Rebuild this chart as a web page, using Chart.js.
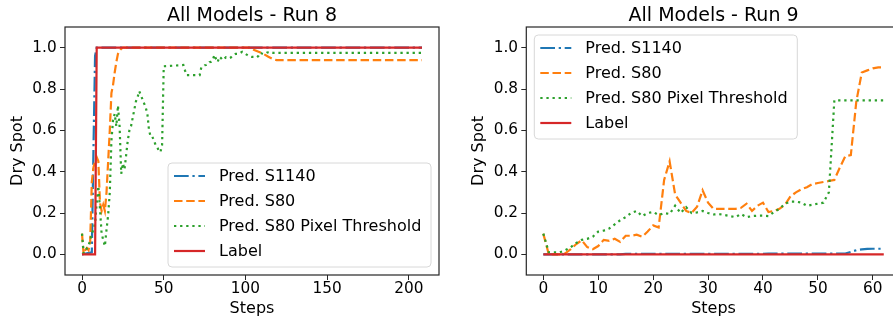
<!DOCTYPE html>
<html>
<head>
<meta charset="utf-8">
<script src="https://cdn.jsdelivr.net/npm/chart.js@4.4.0/dist/chart.umd.min.js"></script>
<style>
  html, body { margin: 0; padding: 0; background: #fff; overflow: hidden; }
  #wrap { position: relative; width: 893px; height: 322px; overflow: hidden; }
  .box { position: absolute; top: 0; height: 322px; }
  #box8 { left: 0; width: 446px; }
  #box9 { left: 446px; width: 460px; }
</style>
</head>
<body>
<div id="wrap">
  <div class="box" id="box8"><canvas id="run8" width="446" height="322"></canvas></div>
  <div class="box" id="box9"><canvas id="run9" width="460" height="322"></canvas></div>
</div>
<script>
var seriesNames = ["Pred. S1140", "Pred. S80", "Pred. S80 Pixel Threshold", "Label"];
var yTicks = [0, 0.2, 0.4, 0.6, 0.8, 1.0];
var run8Ticks = [0, 50, 100, 150, 200];
var run9Ticks = [0, 10, 20, 30, 40, 50, 60];

// run 8 : only the steps where a line bends are listed
var run8S1140Steps = [0, 6, 7, 8, 9, 208];
var run8S1140Values = [0, 0.01, 0.5, 0.96, 1, 1];

var run8S80Steps = [0, 1, 2, 3, 4, 5, 6, 7, 8, 9, 10, 11, 12, 13, 14, 15, 16, 17, 18, 19, 20, 21, 22, 23, 24, 25,
  103, 105, 108, 111, 114, 117, 119, 208];
var run8S80Values = [0.1, 0.0, 0.02, 0.03, 0.02, 0.06, 0.35, 0.42, 0.45, 0.47, 0.45, 0.25, 0.21, 0.24, 0.21, 0.3,
  0.45, 0.6, 0.78, 0.82, 0.88, 0.93, 0.97, 0.985, 0.995, 1.0,
  1.0, 0.99, 0.98, 0.97, 0.956, 0.944, 0.94, 0.94];

var run8PixelSteps = [0, 1, 2, 3, 4, 5, 6, 7, 8, 9, 10, 11, 12, 13, 14, 15, 16, 17, 18, 19, 20, 21, 22, 23, 24, 25,
  26, 27, 28, 29, 30, 31, 32, 33, 34, 35, 36, 37, 38, 39, 40, 41, 42, 43, 44, 45, 46, 47, 48, 49, 50,
  62, 63, 64, 72,
  73, 74, 75, 76, 77, 78, 79, 80, 81, 82, 83, 84, 85, 86, 87, 88, 89, 90, 91, 92, 93, 94, 95, 96, 97, 98, 99,
  100, 101, 102, 103, 104, 105, 106, 107, 108, 109, 110, 111, 112, 113, 114, 115, 116, 117, 208];
var run8PixelValues = [0.1, 0.005, 0.01, 0.03, 0.04, 0.07, 0.1, 0.12, 0.15, 0.25,
  0.33, 0.22, 0.1, 0.07, 0.04, 0.12, 0.19, 0.3, 0.55, 0.65,
  0.68, 0.62, 0.72, 0.62, 0.39, 0.44, 0.41, 0.48, 0.55, 0.6,
  0.62, 0.66, 0.7, 0.74, 0.76, 0.79, 0.77, 0.75, 0.73, 0.71,
  0.68, 0.6, 0.57, 0.57, 0.55, 0.53, 0.52, 0.5, 0.495, 0.53, 0.91,
  0.916, 0.89, 0.867, 0.867,
  0.905, 0.91, 0.915, 0.916, 0.92, 0.93, 0.932, 0.94, 0.965, 0.945, 0.93, 0.956, 0.95, 0.94, 0.945, 0.953, 0.95,
  0.948, 0.952, 0.96, 0.965, 0.97, 0.97, 0.973, 0.975, 0.98, 0.975,
  0.97, 0.965, 0.96, 0.957, 0.955, 0.955, 0.953, 0.953, 0.96, 0.975, 0.972, 0.97, 0.97, 0.975, 0.978, 0.98,
  0.977, 0.975, 0.975];

var run8LabelSteps = [0, 8, 9, 208];
var run8LabelValues = [0, 0, 1, 1];

// run 9 : every step
var run9Steps = [0, 1, 2, 3, 4, 5, 6, 7, 8, 9, 10, 11, 12, 13, 14, 15, 16, 17, 18, 19, 20, 21, 22, 23, 24, 25,
  26, 27, 28, 29, 30, 31, 32, 33, 34, 35, 36, 37, 38, 39, 40, 41, 42, 43, 44, 45, 46, 47, 48, 49, 50, 51, 52,
  53, 54, 55, 56, 57, 58, 59, 60, 61, 62];
var run9S1140Values = [0, 0, 0, 0, 0, 0, 0, 0, 0, 0, 0, 0, 0, 0, 0,
  0.002, 0.002, 0.002, 0.002, 0.002, 0.002, 0.002, 0.002, 0.002, 0.002, 0.002, 0.002, 0.002,
  0.002, 0.002, 0.002, 0.002, 0.002, 0.002, 0.002, 0.002, 0.002, 0.002, 0.002, 0.002, 0.002,
  0.004, 0.004, 0.004, 0.004, 0.004, 0.004, 0.004, 0.004, 0.004, 0.004, 0.004, 0.004, 0.004, 0.004, 0.004,
  0.012, 0.02, 0.024, 0.026, 0.027, 0.027, 0.027];
var run9S80Values = [0.1, 0.0, 0.0, 0.0, 0.005, 0.025, 0.05, 0.068, 0.035, 0.025,
  0.04, 0.07, 0.065, 0.075, 0.06, 0.09, 0.09, 0.095, 0.085, 0.11,
  0.14, 0.13, 0.36, 0.45, 0.29, 0.25, 0.21, 0.2, 0.23, 0.31,
  0.25, 0.22, 0.22, 0.22, 0.22, 0.22, 0.225, 0.245, 0.21, 0.235,
  0.25, 0.205, 0.21, 0.22, 0.24, 0.28, 0.3, 0.315, 0.325, 0.34,
  0.345, 0.35, 0.355, 0.36, 0.42, 0.475, 0.48, 0.74, 0.88, 0.89,
  0.9, 0.905, 0.905];
var run9PixelValues = [0.1, 0.01, 0.01, 0.01, 0.02, 0.035, 0.055, 0.07, 0.075, 0.085,
  0.11, 0.115, 0.125, 0.145, 0.165, 0.18, 0.2, 0.21, 0.185, 0.2,
  0.205, 0.19, 0.2, 0.195, 0.235, 0.2, 0.228, 0.2, 0.203, 0.21,
  0.2, 0.193, 0.195, 0.19, 0.185, 0.18, 0.195, 0.18, 0.185, 0.187,
  0.187, 0.185, 0.205, 0.22, 0.245, 0.255, 0.255, 0.25, 0.235, 0.24,
  0.245, 0.25, 0.3, 0.745, 0.745, 0.745, 0.745, 0.745, 0.745, 0.745,
  0.745, 0.745, 0.745];
var run9LabelSteps = [0, 62];
var run9LabelValues = [0, 0];

var colors = ["#1f77b4", "#ff7f0e", "#2ca02c", "#d62728"];
var dashes = [[14.7, 3.7, 2.3, 3.7], [8.5, 3.7], [2.3, 3.8], []];
var FONT = '"DejaVu Sans", sans-serif';

function zip(steps, values) {
  return steps.map(function (s, i) { return { x: s, y: values[i] }; });
}

function makeDatasets(lists) {
  return lists.map(function (pts, i) {
    return {
      label: seriesNames[i],
      data: pts,
      borderColor: colors[i],
      backgroundColor: colors[i],
      borderWidth: 2.2,
      borderDash: dashes[i],
      pointRadius: 0,
      tension: 0,
      fill: false,
      order: 3 - i
    };
  });
}

// frame, title and legend drawn like matplotlib
var boxPlugin = {
  id: "boxPlugin",
  afterDraw: function (chart) {
    var o = chart.options.plugins.boxPlugin;
    var a = chart.chartArea;
    var ctx = chart.ctx;
    ctx.save();
    ctx.strokeStyle = "#262626";
    ctx.lineWidth = 1.2;
    ctx.strokeRect(a.left, a.top, a.right - a.left, a.bottom - a.top);

    ctx.fillStyle = "#000";
    ctx.font = "19px " + FONT;
    ctx.textAlign = "center";
    ctx.textBaseline = "alphabetic";
    ctx.fillText(o.title, (a.left + a.right) / 2, 20.7);

    var w = 263, h = 104;
    var bx = o.corner === "lower right" ? a.right - 8 - w : a.left + 8;
    var by = o.corner === "lower right" ? a.bottom - 8 - h : a.top + 8;
    ctx.beginPath();
    ctx.roundRect(bx, by, w, h, 4);
    ctx.fillStyle = "rgba(255,255,255,0.8)";
    ctx.fill();
    ctx.strokeStyle = "#d8d8d8";
    ctx.lineWidth = 1;
    ctx.stroke();

    ctx.font = "16px " + FONT;
    ctx.textAlign = "left";
    ctx.textBaseline = "middle";
    chart.data.datasets.forEach(function (ds, i) {
      var yy = by + 13 + i * 25;
      ctx.beginPath();
      ctx.setLineDash(ds.borderDash);
      ctx.strokeStyle = ds.borderColor;
      ctx.lineWidth = ds.borderWidth;
      ctx.moveTo(bx + 6, yy);
      ctx.lineTo(bx + 37, yy);
      ctx.stroke();
      ctx.setLineDash([]);
      ctx.fillStyle = "#000";
      ctx.fillText(ds.label, bx + 51, yy + 1);
    });
    ctx.restore();
  }
};

function makeChart(id, datasets, xMin, xMax, xTicks, opts) {
  return new Chart(document.getElementById(id), {
    type: "line",
    data: { datasets: datasets },
    plugins: [boxPlugin],
    options: {
      responsive: false,
      animation: false,
      devicePixelRatio: 1,
      layout: { padding: { left: 0, right: opts.padRight, top: 27, bottom: 0 } },
      plugins: {
        legend: { display: false },
        tooltip: { enabled: false },
        title: { display: false },
        boxPlugin: { title: opts.title, corner: opts.corner }
      },
      scales: {
        x: {
          type: "linear",
          min: xMin,
          max: xMax,
          afterBuildTicks: function (scale) {
            scale.ticks = xTicks.map(function (v) { return { value: v }; });
          },
          afterFit: function (scale) { scale.height = 47; },
          ticks: {
            color: "#000",
            font: { family: FONT, size: 15.3 },
            padding: 0,
            maxRotation: 0,
            callback: function (v) { return String(v); }
          },
          grid: { drawOnChartArea: false, drawTicks: true, tickLength: 5, color: "#262626" },
          border: { display: false },
          title: {
            display: true,
            text: "Steps",
            color: "#000",
            font: { family: FONT, size: 16 },
            padding: { top: 0, bottom: 3.9 }
          }
        },
        y: {
          type: "linear",
          min: -0.1,
          max: 1.1,
          afterBuildTicks: function (scale) {
            scale.ticks = yTicks.map(function (v) { return { value: v }; });
          },
          afterFit: function (scale) { scale.width = opts.yWidth; },
          ticks: {
            color: "#000",
            font: { family: FONT, size: 15.3 },
            padding: 3.3,
            callback: function (v) { return Number(v).toFixed(1); }
          },
          grid: { drawOnChartArea: false, drawTicks: true, tickLength: 5, color: "#262626" },
          border: { display: false },
          title: {
            display: true,
            text: "Dry Spot",
            color: "#000",
            font: { family: FONT, size: 16 },
            padding: { top: opts.yTitlePad, bottom: 0 }
          }
        }
      }
    }
  });
}

makeChart("run8", makeDatasets([
  zip(run8S1140Steps, run8S1140Values),
  zip(run8S80Steps, run8S80Values),
  zip(run8PixelSteps, run8PixelValues),
  zip(run8LabelSteps, run8LabelValues)
]), -10.4, 218.4, run8Ticks, {
  title: "All Models - Run 8", corner: "lower right", padRight: 7, yWidth: 65, yTitlePad: 8
});

makeChart("run9", makeDatasets([
  zip(run9Steps, run9S1140Values),
  zip(run9Steps, run9S80Values),
  zip(run9Steps, run9PixelValues),
  zip(run9LabelSteps, run9LabelValues)
]), -3.1, 65.1, run9Ticks, {
  title: "All Models - Run 9", corner: "upper left", padRight: 5.2, yWidth: 80.3, yTitlePad: 23
});
</script>
</body>
</html>
